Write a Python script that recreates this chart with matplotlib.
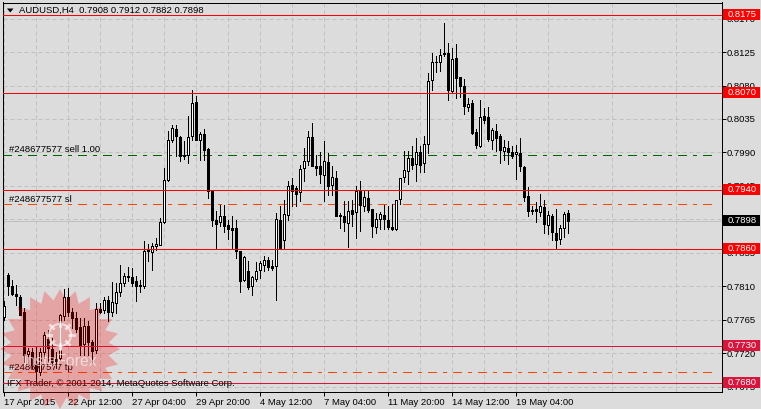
import numpy as np
import matplotlib
matplotlib.use("Agg")
import matplotlib.pyplot as plt
from matplotlib.patches import Rectangle, Polygon
from matplotlib.transforms import blended_transform_factory

# prices in units of 0.0001
opens = [7769,7825.4,7810.6,7799.4,7795.8,7774.7,7719,7722,7704,7695,7722,7738.8,7725.7,7712,7713,7770,7795.3,7775,7767,7755.8,
 7732,7756.7,7735.6,7724.4,7779.6,7777.4,7791.7,7774.7,7787.2,7802,7814.2,7824,7822.7,7816.4,7812,7810.6,7859,7855.5,7863.6,7864.9,
 7895.9,7953.4,8006.4,8021.6,8010.9,7987,7986,8011.8,8058,8006.4,8014.9,7995.2,7938.6,7899.5,7895.9,7904.9,7892.8,7888.7,7888.7,7856.9,
 7817.8,7830.8,7809.7,7820,7831.3,7838.9,7845.6,7837.6,7836.7,7899.5,7872.6,7905.4,7946.7,7942.2,7936.8,7969.1,7978.1,8010.9,7972.3,7972.3,
 7960.1,7977.2,7945.8,7955.7,7906.3,7904.9,7895,7913,7909.8,7938.6,7917.5,7928.7,7913.9,7889.2,7900.4,7906.3,7899.5,7889.7,7887.4,7927.4,
 7956.5,7964.6,7982.6,7974.9,7990.7,7975.4,8001.9,8087.2,8111.5,8111.5,8124,8123.1,8073.3,8117.3,8091.7,8080,8050.8,8056.7,8017.6,7999.2,
 8039.6,8037.8,8007.3,8019.4,8011.8,7992.5,7996,7990.7,7987.5,7989.3,7970.5,7931.9,7913,7913.9,7909.4,7916.6,7892.8,7904.9,7881.6,7873.5,
 7888.3,7908]
highs = [7789.5,7827.7,7818.7,7812,7798.5,7780.5,7726.6,7726.6,7728.9,7726.6,7749,7751.3,7740,7722,7772.4,7806.5,7807.4,7780.5,7776,7767,
 7767,7763.4,7737.9,7787.2,7787,7794.9,7796.2,7815.5,7814.2,7838.9,7827.7,7835.7,7834.4,7823.2,7818.7,7870.3,7866.7,7868,7874.8,7901.7,
 7969,8018.5,8027.5,8026.6,8012.7,8005.9,8038.7,8074.6,8066.5,8017.2,8021.6,7996,7938.6,7910.7,7919.7,7919.7,7899.5,7904.9,7899.5,7856.9,
 7850.1,7843.4,7823.2,7842,7843.4,7851,7848.8,7845.6,7908.5,7917.5,7926.5,7951.2,7955.6,7944.4,7973.6,7996,8018.5,8029.7,7987,7990.2,
 8005,7989.3,7971.4,7964.6,7908.5,7924.2,7924.2,7926.5,7944.4,7951.2,7937.7,7937.7,7913.9,7908.5,7909.4,7919.7,7917.5,7921.1,7926.5,7955.6,
 7991.6,7991.6,7999.2,8009.5,7998.3,8011.8,8097.1,8124,8119.5,8128.5,8163.5,8137.5,8130.8,8135.3,8091.7,8089,8063.4,8060.3,8021.7,8061.2,
 8049.9,8051.3,8023,8028.8,8015.4,8007.3,8005,7999.2,8000.6,8009.5,7971.4,7943.5,7917.5,7922.9,7934.6,7926.5,7910.8,7907.6,7913.9,7892.8,
 7909.9,7912]
lows = [7764.8,7798.5,7798.5,7785,7771.5,7708.7,7704,7699.7,7681.7,7690.7,7713,7708.7,7704,7700,7711,7764.8,7769.3,7753.6,7749,7717.6,
 7717.6,7717.6,7708.7,7719.9,7773.8,7773.8,7762.6,7769.3,7773.8,7796.2,7809.7,7816.4,7809.7,7790.8,7802,7807.4,7844.3,7832,7859,7864.9,
 7895,7952,8003.7,7985.7,7978.1,7981.2,7975.9,8007.3,8006.4,7980.3,7980.3,7928.7,7890.5,7860,7890.5,7882.5,7873.5,7861.4,7847.9,7801.6,
 7816.4,7806.1,7798.5,7816.4,7821,7829.9,7832.2,7832.2,7791.8,7860,7860,7899.5,7918.4,7917.5,7924.2,7951.2,7973.6,7971.4,7960.1,7948.9,
 7924.2,7933.2,7933.2,7904,7888.3,7883.8,7862.3,7890.5,7874.8,7883.8,7910.8,7909.4,7875.7,7881.6,7887,7887,7887,7886.1,7886.1,7921.1,
 7949.8,7948,7967.8,7951.2,7963.7,7963.3,7989.3,8074.6,8098,8100.2,8119.5,8061.2,8071,8063.9,8064.8,8042.3,8045.5,8015.4,7996,7997.4,
 8029.7,8005,7994.7,7991.6,7975.9,7980.3,7975,7982.6,7954.8,7964.6,7924.2,7904.9,7907.6,7896.4,7904,7881.6,7880.7,7872.6,7860.5,7867.2,
 7875.7,7882]
closes = [7783,7810.6,7799.4,7796.2,7771.5,7717.6,7723.5,7704,7696.5,7721,7744.6,7726.6,7708.7,7709,7771.5,7795.3,7774.7,7767,7752.7,7731,
 7757,7734.7,7723,7779,7776,7791.3,7774.7,7788.6,7802,7814.2,7824,7821.8,7815,7809.7,7809.7,7857.7,7856.8,7863.6,7866.7,7896.3,
 7953.4,8006.4,8023,8011.8,7984.8,7984.8,8010.9,8056.7,8006.4,8014.9,7993.8,7938.6,7899.5,7894.1,7904.9,7890.5,7887.4,7886,7856.9,7816.4,
 7849.2,7808.8,7822.3,7830.8,7841.1,7845.2,7835.3,7834.9,7900.4,7860,7907.2,7945.3,7938.6,7934.5,7968.2,7979,8010.9,7971.4,7969.6,7961.5,
 7979,7944.4,7957,7904,7904,7895.9,7911.2,7907.6,7937.7,7918.8,7930.1,7912.1,7890.6,7900.4,7907.6,7900.4,7889.2,7887.4,7925.6,7955.6,
 7966.4,7982.6,7973.6,7990.7,7973.6,8001.4,8086.3,8111.9,8111.9,8121.3,8121.8,8074.6,8115.9,8089.5,8080,8052.2,8055.3,8016.3,8000.6,8037.8,
 8034.2,8008.6,8020.8,8009.5,7993.8,7997.4,7990.2,7985.7,7990.7,7971.4,7929.6,7911.6,7910.8,7910.8,7917.5,7894.1,7906.3,7882.5,7872.6,7888.3,
 7907.2,7898]

price_ticks = [0.8170,0.8125,0.8080,0.8035,0.7990,0.7945,0.7900,0.7855,0.7810,0.7765,0.7720,0.7675]
date_labels = ["17 Apr 2015","22 Apr 12:00","27 Apr 04:00","29 Apr 20:00","4 May 12:00",
               "7 May 04:00","11 May 20:00","14 May 12:00","19 May 04:00"]
red_levels = [0.8175,0.8070,0.7940,0.7860]
crimson_levels = [0.7730,0.7680]
order_open = 0.7987
order_sl = 0.7921
order_tp = 0.7694
last_price = 0.7898

plt.rcParams['font.family'] = ['Liberation Sans','DejaVu Sans']
plt.rcParams['lines.scale_dashes'] = False
PX = 0.72
W, H = 761, 409
BG = '#dcdcdc'
FS = 6.8
fig = plt.figure(figsize=(W/100, H/100), dpi=100, facecolor=BG)
ax = fig.add_axes([2.5/W, 1-391.5/H, 719/W, 389/H], facecolor=BG)

o, h, l, c = [np.array(v)/1e4 for v in (opens, highs, lows, closes)]
x = np.arange(len(o))
ax.set_xlim(-0.25, 179.5)
ax.set_ylim(0.76684, 0.81917)

# grid
ax.set_xticks(np.arange(len(date_labels))*16)
ax.set_xticklabels(date_labels, ha='left', fontsize=FS)
ax.set_xticks(np.arange(8, 180, 16), minor=True)
ax.set_yticks(price_ticks)
ax.set_yticklabels([f"{p:.4f}" for p in price_ticks], fontsize=FS)
ax.yaxis.tick_right()
ax.tick_params(axis='y', which='major', length=2.9, width=PX, pad=1.0, color='k')
ax.tick_params(axis='x', which='major', length=2.9, width=PX, pad=1.6, color='k')
ax.tick_params(axis='x', which='minor', length=0)
ax.grid(True, which='both', color='#c0c0c0', lw=PX, linestyle=(0,(4*PX,3*PX)), zorder=1)
ax.set_axisbelow(True)
for s in ax.spines.values():
    s.set_linewidth(PX); s.set_color('k')

# order lines (behind candles)
end = 178.4
DD = (0,(9*PX,6*PX,3*PX,6*PX))
ax.axhline(last_price, color='#c0c0c0', lw=PX, zorder=1.5, antialiased=False)
ax.plot([-0.1,end],[order_open]*2, color='#006400', lw=PX, ls=DD, zorder=2, antialiased=False)
ax.plot([-0.1,end],[order_sl]*2, color='#ff4500', lw=PX, ls=DD, zorder=2, antialiased=False)
ax.plot([-0.1,end],[order_tp]*2, color='#ff4500', lw=PX, ls=DD, zorder=2, antialiased=False)

# candles
ax.vlines(x, l, h, color='k', lw=PX, zorder=3, antialiased=False)
up = c >= o
ax.bar(x, np.abs(c-o), 0.5, bottom=np.minimum(o,c), color=np.where(up,'white','black'),
       edgecolor='k', linewidth=PX, zorder=3.5, antialiased=False)

# horizontal levels
for v in red_levels:
    ax.axhline(v, color='#ff0000', lw=PX, zorder=4, antialiased=False)
for v in crimson_levels:
    ax.axhline(v, color='#dc143c', lw=PX, zorder=4, antialiased=False)

# price boxes
tr = blended_transform_factory(fig.transFigure, ax.transData)
bh = 11/0.7434/1e4
def pbox(v, col, tc='#ffffff'):
    ax.add_patch(Rectangle((723/W, v-bh/2+0.00007), 36.5/W, bh, transform=tr, facecolor=col,
                           edgecolor='none', clip_on=False, zorder=6))
    ax.text(727.7/W, v+0.00005, f"{v:.4f}", transform=tr, color=tc, fontsize=FS,
            va='center', ha='left', clip_on=False, zorder=7)
for v in red_levels:
    pbox(v, '#ff0000')
for v in crimson_levels:
    pbox(v, '#dc143c')
pbox(last_price, '#000000')

# chart texts, pixel placed
def t(px, py, s, **kw):
    kw.setdefault('color','k'); kw.setdefault('fontsize',FS)
    fig.text(px/W, 1-py/H, s, va='center', ha='left', zorder=9, **kw)
t(18.7, 10.5, "AUDUSD,H4  0.7908 0.7912 0.7882 0.7898")
t(9.3, 150, "#248677577 sell 1.00")
t(9.3, 199, "#248677577 sl")
t(9.3, 367.7, "#248677577 tp")
t(7.3, 384, "IFX Trader, \u00a9 2001-2014, MetaQuotes Software Corp.")
fig.add_artist(Polygon([[7/W,1-8.5/H],[13.5/W,1-8.5/H],[10.2/W,1-12.5/H]], closed=True,
                       transform=fig.transFigure, facecolor='k', edgecolor='none', zorder=9))

# watermark
cx, cy, R1, R2, n = 60, 349, 60, 49, 24
ang = np.arange(2*n)*np.pi/n
rad = np.where(np.arange(2*n)%2==0, R1, R2)
pts = np.c_[(cx+rad*np.sin(ang))/W, 1-(cy+rad*np.cos(ang))/H]
fig.add_artist(Polygon(pts, closed=True, transform=fig.transFigure, facecolor='#ff0000',
                       edgecolor='none', alpha=0.25, zorder=10))
gx, gy = 60, 335
for a in np.arange(0, 2*np.pi, np.pi/4):
    fig.add_artist(plt.Line2D([(gx+9*np.cos(a))/W,(gx+13.5*np.cos(a))/W],
                              [1-(gy+9*np.sin(a))/H,1-(gy+13.5*np.sin(a))/H],
                              color='white', lw=2.0, alpha=0.6, transform=fig.transFigure, zorder=11))
theta = np.linspace(0, 2*np.pi, 60)
fig.add_artist(plt.Line2D((gx+11*np.cos(theta))/W, 1-(gy+11*np.sin(theta))/H, color='white', lw=1.5,
                          alpha=0.6, transform=fig.transFigure, zorder=11))
fig.add_artist(plt.Line2D([gx/W,gx/W],[1-326/H,1-348/H], color='white', lw=2.2, alpha=0.7,
                          transform=fig.transFigure, zorder=11))
fig.text(23/W, 1-362/H, "InstaForex", color='white', alpha=0.6, fontsize=11.3, va='center', ha='left', zorder=11)

fig.savefig("out.png", dpi=100, facecolor=BG)
